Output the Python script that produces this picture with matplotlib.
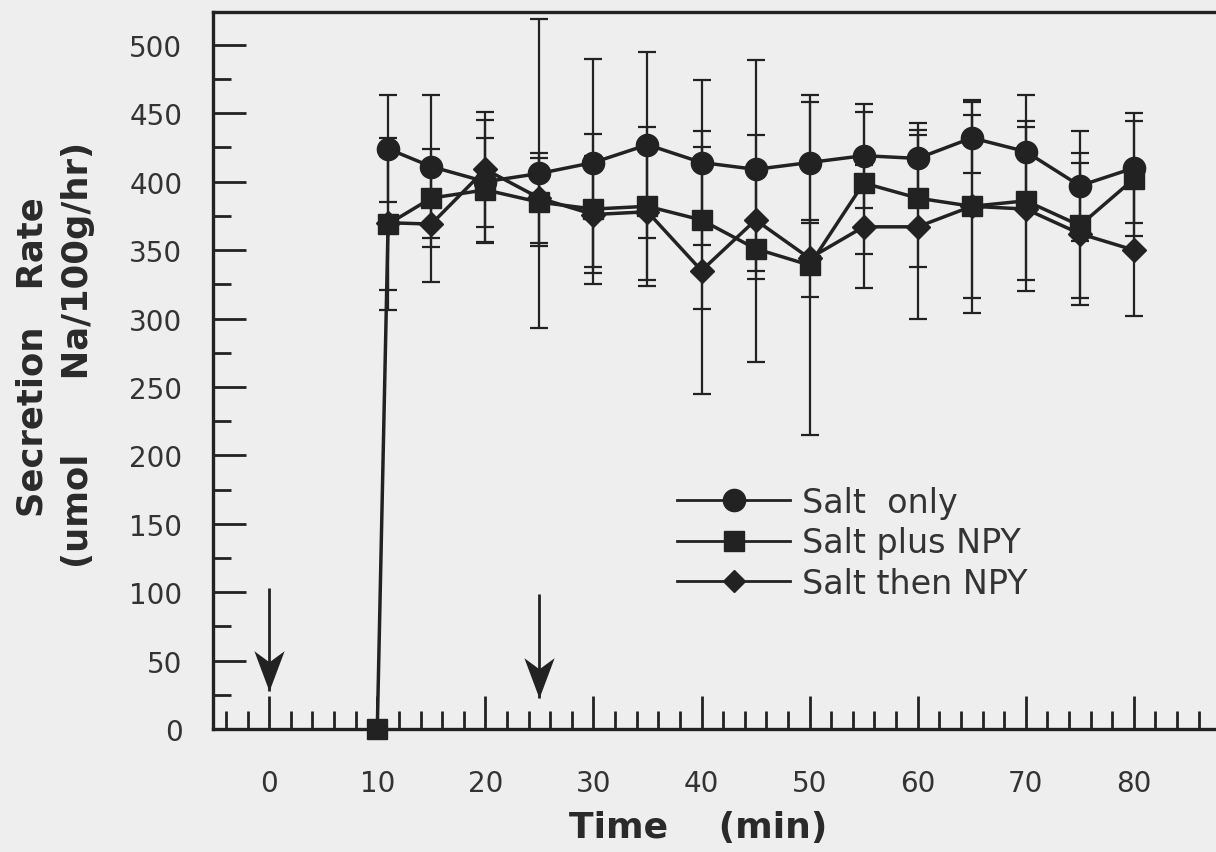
import numpy as np
import matplotlib.pyplot as plt
from matplotlib.lines import Line2D

# sampling times (min) and secretion rates (umol Na/100g/hr)
times = [11, 15, 20, 25, 30, 35, 40, 45, 50, 55, 60, 65, 70, 75, 80]

salt_only = [424, 411, 400, 406, 414, 427, 414, 409, 414, 419, 417, 432, 422, 397, 410]
salt_only_err = [39, 52, 45, 113, 76, 68, 60, 80, 44, 38, 26, 26, 41, 40, 40]

salt_plus = [369, 388, 394, 385, 380, 382, 372, 351, 339, 399, 388, 382, 386, 368, 402]
salt_plus_err = [63, 36, 38, 32, 55, 58, 65, 83, 124, 52, 50, 67, 58, 53, 42]
# salt plus NPY starts from a baseline point
plus_start_time = 10
plus_start_value = 0

salt_then = [370, 369, 409, 388, 376, 378, 335, 372, 344, 367, 367, 382, 380, 362, 350]
salt_then_err = [49, 42, 42, 33, 43, 50, 90, 37, 28, 45, 67, 78, 60, 52, 48]

labels = ["Salt  only", "Salt plus NPY", "Salt then NPY"]

# arrows marking the infusions
arrow_times = [0, 25]
arrow_tops = [103, 99]
arrow_tips = [28, 23]

x_major = list(range(0, 90, 10))
y_major = list(range(0, 550, 50))

bg = '#eeeeee'
ink = '#222222'

fig = plt.figure(figsize=(12.16, 8.53), dpi=100, facecolor=bg)
ax = fig.add_axes([213 / 1216, 1 - 730 / 853, 1 - 213 / 1216, (730 - 13) / 853])
ax.set_facecolor(bg)

err_kw = dict(fmt='none', ecolor=ink, elinewidth=1.6, capsize=6.5, capthick=1.6)
line_kw = dict(color=ink, lw=2.5, markersize=16, markerfacecolor=ink,
               markeredgecolor=ink, clip_on=False)

ax.errorbar(times, salt_only, yerr=salt_only_err, zorder=2, **err_kw)
ax.errorbar(times, salt_plus, yerr=salt_plus_err, zorder=2, **err_kw)
ax.errorbar(times, salt_then, yerr=salt_then_err, zorder=2, **err_kw)

h1, = ax.plot(times, salt_only, marker='o', zorder=3, **line_kw)
h3, = ax.plot(times, salt_then, marker='D', zorder=4,
              **{**line_kw, 'markersize': 12})
h2, = ax.plot([plus_start_time] + times, [plus_start_value] + salt_plus,
              marker='s', zorder=5, **{**line_kw, 'markersize': 15})

# arrow: plain shaft plus a notched head drawn as a marker at the tip
head = [(0, 0), (-0.75, 2), (0, 1.45), (0.75, 2), (0, 0)]
for t, top, tip in zip(arrow_times, arrow_tops, arrow_tips):
    ax.plot([t, t], [top, tip], color=ink, lw=2.0, solid_capstyle='butt')
    ax.plot([t], [tip], marker=head, markersize=58, color=ink,
            markeredgewidth=0, linestyle='none')

ax.set_xlim(-5.2, 87.6)
ax.set_ylim(0, 524)
ax.set_xticks(x_major)
ax.set_xticks(np.arange(-4, 88, 2), minor=True)
ax.set_yticks(y_major)
ax.set_yticks(np.arange(25, 525, 50), minor=True)

ax.tick_params(which='both', direction='in', colors=ink, width=2)
ax.tick_params(which='major', length=24)
ax.tick_params(which='minor', length=13)
ax.tick_params(axis='x', which='major', pad=29, labelsize=20, labelcolor='#333333')
ax.tick_params(axis='y', which='major', pad=22, labelsize=20, labelcolor='#333333')

for side in ['left', 'bottom', 'top']:
    ax.spines[side].set_linewidth(2.4)
    ax.spines[side].set_color(ink)
ax.spines['right'].set_visible(False)

fig.text(698 / 1216, 1 - 828 / 853, 'Time    (min)', ha='center', va='center',
         fontsize=26, fontweight='bold', color='#2a2a2a')
fig.text(43 / 1216, 1 - 357 / 853, 'Secretion   Rate', rotation=90,
         rotation_mode='anchor', ha='center', va='baseline',
         fontsize=25.5, fontweight='bold', color='#2a2a2a')
fig.text(88 / 1216, 1 - 355 / 853, '(umol      Na/100g/hr)', rotation=90,
         rotation_mode='anchor', ha='center', va='baseline',
         fontsize=25.5, fontweight='bold', color='#2a2a2a')

handles = [
    Line2D([], [], color=ink, lw=2, marker='o', markersize=16, markerfacecolor=ink),
    Line2D([], [], color=ink, lw=2, marker='s', markersize=15, markerfacecolor=ink),
    Line2D([], [], color=ink, lw=2, marker='D', markersize=11, markerfacecolor=ink),
]
leg = ax.legend(handles, labels, loc='upper left', bbox_to_anchor=(677 / 1216, 1 - 487 / 853),
                bbox_transform=fig.transFigure, frameon=False, fontsize=24,
                handlelength=3.4, handletextpad=0.35, labelspacing=0.22,
                borderpad=0, borderaxespad=0)
for txt in leg.get_texts():
    txt.set_color('#333333')

fig.savefig('out.png', dpi=100, facecolor=bg)
